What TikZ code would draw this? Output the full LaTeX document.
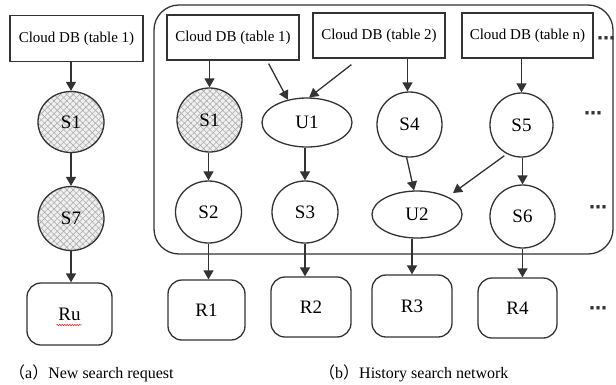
\documentclass[tikz,border=0pt]{standalone}
\usepackage{fontspec}
\setmainfont{Liberation Serif}
\newfontfamily\cjk{Noto Sans CJK SC}
\newfontfamily\dvb{DejaVu Sans Bold}
\usetikzlibrary{shapes.geometric,arrows.meta,patterns.meta,decorations.pathmorphing,calc}
\definecolor{ln}{HTML}{333333}
\begin{document}
\begin{tikzpicture}[x=1pt,y=-1pt,
  line/.style={draw=ln, line width=1.3pt},
  arr/.style={draw=ln, line width=1.3pt, -{Triangle[length=9pt,width=10pt]}},
  dbbox/.style={line, rectangle, minimum width=#1, minimum height=45pt, inner sep=0pt,
                font=\fontsize{15}{18}\selectfont, text=black},
  snode/.style={line, ellipse, inner sep=0pt, font=\fontsize{19}{22}\selectfont, text=black},
  hatch/.style={preaction={fill=gray!12},
                preaction={pattern={Lines[angle=45,distance=4.5pt,line width=0.6pt]}, pattern color=gray!65},
                preaction={pattern={Lines[angle=-45,distance=4.5pt,line width=0.6pt]}, pattern color=gray!65}},
  rbox/.style={line, rectangle, rounded corners=14pt, inner sep=0pt,
               font=\fontsize{19}{22}\selectfont, text=black},
  dotstxt/.style={font=\dvb\fontsize{18}{20}\selectfont, text=black!80, inner sep=0pt},
  captxt/.style={font=\fontsize{16}{19}\selectfont, text=black, inner sep=0pt, anchor=west}
]
\fill[white] (0,0) rectangle (616,384);
\useasboundingbox (0,0) rectangle (616,384);

% panel (b) frame
\node[line, rectangle, rounded corners=25pt, minimum width=459pt, minimum height=249pt] (panel) at (383.5,129.5) {};

% ---- (a) new search request
\node[dbbox=133pt, minimum height=46pt] (c0) at (76.5,38.5) {Cloud DB (table 1)};
\node[snode, hatch, minimum width=66pt, minimum height=61pt] (a1) at (71,122) {S1};
\node[snode, hatch, minimum width=66pt, minimum height=64pt] (a7) at (71,218.5) {S7};
\node[rbox, minimum width=85pt, minimum height=62pt] (ru) at (69.5,314) {Ru};
\draw[red!80, line width=0.6pt, decorate, decoration={snake, amplitude=0.7pt, segment length=2.5pt}]
  ([xshift=-13pt,yshift=-11pt]ru.center) -- ([xshift=12pt,yshift=-11pt]ru.center);

\draw[arr] (a1.north |- c0.south) -- (a1.north);
\draw[arr] (a1.south) -- (a7.north);
\draw[arr] (a7.south) -- (a7.south |- ru.north);

% ---- (b) history search network
\node[dbbox=132pt] (b1) at (233,37.5) {Cloud DB (table 1)};
\node[dbbox=132pt] (b2) at (379,35.5) {Cloud DB (table 2)};
\node[dbbox=131pt] (bn) at (527.5,35.5) {Cloud DB (table n)};
\node[dotstxt] (d0) at (606,41) {⋯};

\node[snode, hatch, minimum width=65pt, minimum height=64pt] (s1) at (209.5,120) {S1};
\node[snode, minimum width=90pt, minimum height=49pt] (u1) at (307,122.5) {U1};
\node[snode, minimum width=65pt, minimum height=65pt] (s4) at (409.5,124.5) {S4};
\node[snode, minimum width=63pt, minimum height=64pt] (s5) at (521.5,125) {S5};
\node[dotstxt] (d1) at (593,116) {⋯};

\node[snode, minimum width=66pt, minimum height=62pt] (s2) at (208.5,212) {S2};
\node[snode, minimum width=66pt, minimum height=62pt] (s3) at (305,212) {S3};
\node[snode, minimum width=90pt, minimum height=47pt] (u2) at (417,214.5) {U2};
\node[snode, minimum width=65pt, minimum height=63pt] (s6) at (522.5,216.5) {S6};
\node[dotstxt] (d2) at (598,210) {⋯};

\node[rbox, minimum width=77pt, minimum height=60pt] (r1) at (206.5,310) {R1};
\node[rbox, minimum width=80pt, minimum height=60pt] (r2) at (311,307) {R2};
\node[rbox, minimum width=80pt, minimum height=62pt] (r3) at (412,306) {R3};
\node[rbox, minimum width=79pt, minimum height=60pt] (r4) at (517.5,308) {R4};
\node[dotstxt] (d3) at (598,311) {⋯};

\draw[arr] (s1.north |- b1.south) -- (s1.north);
\draw[arr] ([xshift=-31pt,yshift=-3pt]b1.south east) -- (u1.130);
\draw[arr] ([xshift=39pt,yshift=-6pt]b2.south west) -- (u1.85);
\draw[arr] ([xshift=-2pt]s4.north |- b2.south) -- ([xshift=-2pt]s4.north);
\draw[arr] (s5.north |- bn.south) -- (s5.north);

\draw[arr] (s2.north |- s1.south) -- (s2.north);
\draw[arr] (s3.north |- u1.south) -- (s3.north);
\draw[arr] (s4.265) -- (u2.97);
\draw[arr, shorten <=3pt] (s5.243) -- ([xshift=36pt,yshift=21.5pt]u2.center);
\draw[arr] (s6.north |- s5.south) -- (s6.north);

\draw[arr] (s2.south) -- (s2.south |- r1.north);
\draw[arr] (s3.south) -- (s3.south |- r2.north);
\draw[arr] (r3.north |- u2.south) -- (r3.north);
\draw[arr] (s6.south) -- (s6.south |- r4.north);

% captions
\node[captxt] (capa) at (9,373) {{\cjk （}a{\cjk ）}New search request};
\node[captxt] (capb) at (319,373) {{\cjk （}b{\cjk ）}History search network};
\end{tikzpicture}
\end{document}
